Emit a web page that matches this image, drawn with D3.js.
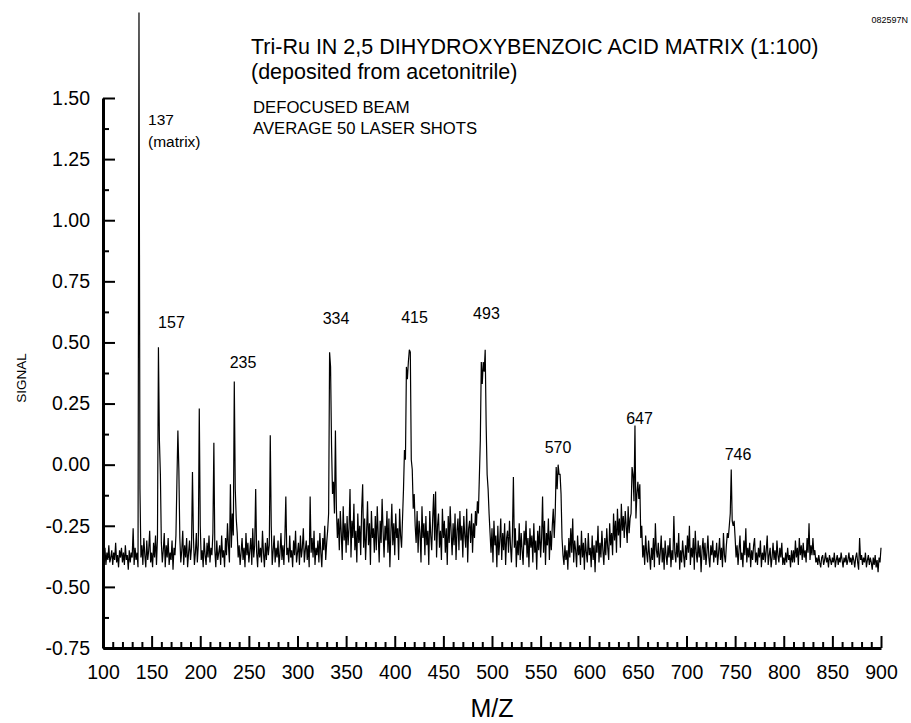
<!DOCTYPE html>
<html>
<head>
<meta charset="utf-8">
<script src="https://cdn.jsdelivr.net/npm/d3@7"></script>
<style>
  body { margin: 0; background: #fff; }
  svg { display: block; font-family: "Liberation Sans", Arial, sans-serif; }
</style>
</head>
<body>
<div id="chart"></div>
<script>
// m/z grid: one reading per unit from 100 to 900
var mzStart = 100;
var signal = [
  -.37,-.40,-.34,-.41,-.36,-.39,-.33,-.40,-.38,-.35, // 100
  -.41,-.36,-.39,-.32,-.40,-.37,-.42,-.35,-.38,-.34,
  -.40,-.36,-.41,-.33,-.39,-.37,-.43,-.35,-.40,-.36,
  -.38,-.26,-.41,-.34,-.39,-.36,-.42,1.85,-.10,-.38,
  -.33,-.41,-.30,-.37,-.42,-.31,-.39,-.35,-.27,-.40,
  -.36,-.42,-.32,-.38,-.29,-.41,-.30,.48,.10,-.04, // 150
  -.32,-.40,-.35,-.28,-.42,-.33,-.38,-.30,-.41,-.36,
  -.39,-.31,-.43,-.34,-.37,-.29,-.07,.14,-.02,-.30,
  -.40,-.35,-.27,-.41,-.33,-.38,-.30,-.42,-.36,-.31,
  -.39,-.34,-.03,-.30,-.41,-.36,-.28,-.40,-.33,.23,
  -.25,-.39,-.35,-.42,-.30,-.37,-.41,-.32,-.38,-.29, // 200
  -.40,-.34,-.37,-.28,.09,-.35,-.42,-.31,-.39,-.36,
  -.33,-.41,-.29,-.38,-.35,-.42,-.30,-.37,-.24,-.33,
  -.40,-.08,-.34,-.20,-.29,.34,-.10,-.22,-.28,-.38,
  -.33,-.41,-.36,-.30,-.39,-.34,-.42,-.28,-.37,-.32,
  -.40,-.35,-.30,-.41,-.26,-.38,-.33,-.10,-.36,-.42, // 250
  -.31,-.38,-.34,-.40,-.27,-.36,-.42,-.32,-.39,-.30,
  -.37,-.33,.12,-.25,-.41,-.35,-.29,-.40,-.34,-.38,
  -.31,-.42,-.36,-.28,-.39,-.33,-.41,-.30,-.13,-.37,
  -.34,-.40,-.29,-.38,-.35,-.42,-.31,-.37,-.27,-.40,
  -.36,-.32,-.41,-.29,-.38,-.34,-.26,-.40,-.35,-.31, // 300
  -.39,-.33,-.42,-.13,-.36,-.30,-.38,-.27,-.41,-.34,
  -.37,-.31,-.40,-.28,-.36,-.42,-.30,-.35,-.25,-.39,
  -.32,-.27,-.20,.46,.40,.08,-.12,-.07,-.20,.14,
  -.18,-.30,-.22,-.35,-.19,-.28,-.39,-.17,-.31,-.24,
  -.36,-.21,-.33,-.26,-.10,-.38,-.23,-.30,-.16,-.35, // 350
  -.27,-.40,-.20,-.32,-.25,-.37,-.18,-.08,-.34,-.22,
  -.39,-.28,-.15,-.33,-.24,-.41,-.19,-.30,-.26,-.36,
  -.21,-.35,-.17,-.29,-.40,-.23,-.32,-.14,-.27,-.38,
  -.25,-.31,-.19,-.36,-.22,-.42,-.28,-.16,-.33,-.24,
  -.37,-.20,-.30,-.26,-.39,-.18,-.29,-.34,-.22,-.10, // 400
  .06,.02,.40,.35,.42,.47,.46,.02,-.02,-.18,
  -.12,-.25,-.32,-.19,-.36,-.23,-.28,-.40,-.17,-.30,
  -.24,-.37,-.21,-.33,-.27,-.41,-.19,-.29,-.35,-.22,
  -.12,-.31,-.11,-.38,-.25,-.20,-.34,-.27,-.39,-.18,
  -.30,-.23,-.36,-.26,-.41,-.21,-.32,-.17,-.28,-.37, // 450
  -.24,-.33,-.20,-.39,-.27,-.22,-.35,-.19,-.31,-.25,
  -.38,-.21,-.29,-.34,-.18,-.40,-.26,-.23,-.32,-.20,
  -.36,-.24,-.30,-.19,-.25,-.15,-.20,-.05,.10,.42,
  .33,.42,.38,.47,.16,-.04,-.10,-.20,-.28,-.36,
  -.26,-.40,-.23,-.33,-.29,-.42,-.25,-.37,-.31,-.22, // 500
  -.39,-.28,-.35,-.24,-.41,-.30,-.27,-.36,-.23,-.33,
  -.40,-.29,-.05,-.34,-.26,-.42,-.31,-.37,-.24,-.39,
  -.28,-.35,-.41,-.27,-.33,-.23,-.38,-.30,-.42,-.26,
  -.34,-.29,-.40,-.24,-.36,-.31,-.43,-.27,-.35,-.25,
  -.38,-.30,-.13,-.36,-.23,-.41,-.28,-.33,-.22,-.39, // 550
  -.27,-.35,-.25,-.18,-.30,-.20,-.01,-.10,.00,-.04,
  -.04,-.12,-.30,-.37,-.41,-.33,-.39,-.35,-.43,-.30,
  -.38,-.26,-.36,-.22,-.40,-.31,-.35,-.42,-.29,-.37,
  -.33,-.41,-.27,-.38,-.32,-.43,-.30,-.36,-.40,-.28,
  -.37,-.34,-.42,-.29,-.39,-.33,-.44,-.31,-.36,-.25, // 600
  -.40,-.32,-.38,-.27,-.35,-.41,-.30,-.37,-.26,-.34,
  -.39,-.24,-.33,-.28,-.37,-.20,-.31,-.23,-.36,-.18,
  -.29,-.22,-.34,-.16,-.27,-.21,-.30,-.19,-.25,-.32,
  -.17,-.28,-.22,-.20,-.01,-.04,-.15,.16,-.22,-.12,
  -.07,-.14,-.08,-.30,-.25,-.38,-.33,-.41,-.29,-.36, // 650
  -.40,-.31,-.37,-.43,-.34,-.39,-.30,-.42,-.24,-.35,
  -.38,-.32,-.41,-.36,-.29,-.40,-.34,-.43,-.31,-.37,
  -.41,-.33,-.38,-.30,-.42,-.35,-.39,-.21,-.36,-.40,
  -.32,-.38,-.28,-.43,-.35,-.40,-.31,-.37,-.42,-.33,
  -.39,-.29,-.36,-.25,-.41,-.34,-.38,-.30,-.43,-.27, // 700
  -.36,-.40,-.31,-.38,-.33,-.44,-.35,-.30,-.39,-.32,
  -.41,-.36,-.29,-.38,-.42,-.33,-.37,-.31,-.40,-.35,
  -.38,-.32,-.41,-.36,-.30,-.39,-.34,-.42,-.28,-.37,
  -.40,-.33,-.28,-.30,-.25,-.20,-.02,-.23,-.25,-.23,
  -.30,-.38,-.33,-.41,-.35,-.29,-.39,-.36,-.42,-.31, // 750
  -.37,-.26,-.40,-.34,-.38,-.32,-.42,-.35,-.39,-.33,
  -.30,-.40,-.36,-.41,-.34,-.38,-.31,-.42,-.36,-.39,
  -.33,-.40,-.35,-.29,-.41,-.37,-.34,-.42,-.38,-.32,
  -.39,-.35,-.41,-.31,-.37,-.40,-.34,-.38,-.32,-.41,
  -.38,-.41,-.36,-.40,-.34,-.39,-.37,-.42,-.35,-.40, // 800
  -.35,-.40,-.31,-.38,-.34,-.41,-.30,-.37,-.33,-.39,
  -.32,-.38,-.35,-.40,-.30,-.36,-.24,-.39,-.33,-.37,
  -.30,-.37,-.35,-.40,-.38,-.41,-.37,-.40,-.42,-.38,
  -.37,-.41,-.39,-.36,-.40,-.38,-.42,-.37,-.39,-.41,
  -.38,-.40,-.36,-.42,-.39,-.37,-.41,-.38,-.40,-.36, // 850
  -.39,-.42,-.38,-.40,-.37,-.41,-.39,-.36,-.40,-.38,
  -.41,-.37,-.39,-.42,-.38,-.36,-.40,-.43,-.30,-.39,
  -.37,-.41,-.38,-.40,-.36,-.42,-.39,-.37,-.41,-.38,
  -.40,-.43,-.38,-.41,-.37,-.42,-.39,-.44,-.38,-.40,
  -.34 // 900
];

// peak labels, placed in data units (m/z, signal)
var peakText = ["157", "235", "334", "415", "493", "570", "647", "746"];
var peakMz = [170.4, 244, 339.6, 420.3, 494.3, 567.9, 651.7, 753];
var peakSig = [0.559, 0.395, 0.575, 0.581, 0.596, 0.048, 0.166, 0.019];

var yMajor = [-0.75, -0.5, -0.25, 0, 0.25, 0.5, 0.75, 1, 1.25, 1.5];
var xMajor = [100, 150, 200, 250, 300, 350, 400, 450, 500, 550, 600, 650, 700, 750, 800, 850, 900];

var width = 911, height = 723;

var svg = d3.select("#chart").append("svg")
  .attr("width", width)
  .attr("height", height);

var x = d3.scaleLinear().domain([100, 900]).range([103, 881]);
var y = d3.scaleLinear().domain([-0.75, 1.5]).range([648, 98]);

var data = signal.map(function(v, i) { return { mz: mzStart + i, v: v }; });

// spectrum trace
var line = d3.line()
  .x(function(d) { return x(d.mz); })
  .y(function(d) { return y(d.v); });

svg.append("path")
  .datum(data)
  .attr("d", line)
  .style("fill", "none")
  .style("stroke", "#000")
  .style("stroke-width", 1.2)
  .style("stroke-linejoin", "miter");

// minor ticks first, then the major axis on top
var yMinor = d3.range(-0.625, 1.5, 0.25);
var xMinor = d3.range(110, 900, 10).filter(function(v) { return v % 50 !== 0; });

svg.append("g")
  .attr("transform", "translate(103,0)")
  .call(d3.axisLeft(y).tickValues(yMinor).tickSizeInner(-6).tickSizeOuter(0).tickFormat(""))
  .call(function(g) { g.select(".domain").remove(); })
  .selectAll("line").style("stroke-width", 2);

svg.append("g")
  .attr("transform", "translate(0,648)")
  .call(d3.axisBottom(x).tickValues(xMinor).tickSizeInner(-6).tickSizeOuter(0).tickFormat(""))
  .call(function(g) { g.select(".domain").remove(); })
  .selectAll("line").style("stroke-width", 2);

// plain hyphen for negatives, as in the original plot
var fmt = d3.format(".2f");
var yAxis = svg.append("g")
  .attr("transform", "translate(103,0)")
  .call(d3.axisLeft(y).tickValues(yMajor).tickSizeInner(-12).tickSizeOuter(0)
    .tickPadding(13).tickFormat(function(d) { return fmt(d).replace("\u2212", "-"); }));

var xAxis = svg.append("g")
  .attr("transform", "translate(0,648)")
  .call(d3.axisBottom(x).tickValues(xMajor).tickSizeInner(-12).tickSizeOuter(0)
    .tickPadding(17).tickFormat(d3.format("d")));

[yAxis, xAxis].forEach(function(g) {
  g.select(".domain").style("stroke-width", 3);
  g.selectAll("line").style("stroke-width", 2);
  g.selectAll("text")
    .style("font-family", "'Liberation Sans', Arial, sans-serif")
    .style("font-size", "19.5px")
    .style("fill", "#000");
});

// axis titles
svg.append("text")
  .attr("transform", "translate(26,378) rotate(-90)")
  .attr("text-anchor", "middle")
  .style("font-size", "13.5px")
  .text("SIGNAL");

svg.append("text")
  .attr("x", 492)
  .attr("y", 717)
  .attr("text-anchor", "middle")
  .style("font-size", "25px")
  .text("M/Z");

// header texts
svg.append("text")
  .attr("x", 908).attr("y", 23)
  .attr("text-anchor", "end")
  .style("font-size", "9px")
  .text("082597N");

svg.append("text")
  .attr("x", 251).attr("y", 54)
  .style("font-size", "21.5px")
  .text("Tri-Ru IN 2,5 DIHYDROXYBENZOIC ACID MATRIX (1:100)");

svg.append("text")
  .attr("x", 251).attr("y", 79)
  .style("font-size", "21.5px")
  .text("(deposited from acetonitrile)");

svg.append("text")
  .attr("x", 253).attr("y", 113)
  .style("font-size", "16.7px")
  .text("DEFOCUSED BEAM");

svg.append("text")
  .attr("x", 253).attr("y", 133.5)
  .style("font-size", "16.7px")
  .text("AVERAGE 50 LASER SHOTS");

// matrix peak label
svg.append("text")
  .attr("x", x(146.3)).attr("y", y(1.39))
  .style("font-size", "15.5px")
  .text("137");

svg.append("text")
  .attr("x", x(146.3)).attr("y", y(1.30))
  .style("font-size", "15.5px")
  .text("(matrix)");

// peak labels
svg.selectAll(".peak")
  .data(peakText)
  .enter().append("text")
  .attr("class", "peak")
  .attr("x", function(d, i) { return x(peakMz[i]); })
  .attr("y", function(d, i) { return y(peakSig[i]); })
  .attr("text-anchor", "middle")
  .style("font-size", "16px")
  .text(function(d) { return d; });
</script>
</body>
</html>
